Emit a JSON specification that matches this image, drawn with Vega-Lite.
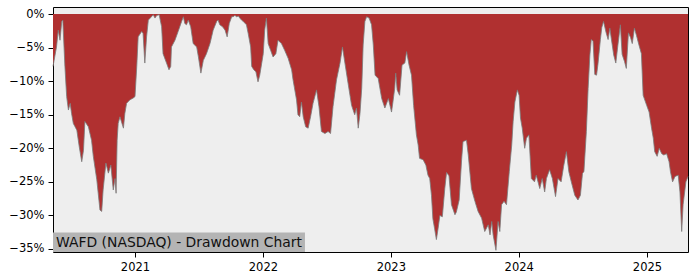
{
  "$schema": "https://vega.github.io/schema/vega-lite/v6.json",
  "width": 635,
  "height": 245,
  "autosize": {"type": "none"},
  "padding": {"left": 53, "top": 7, "right": 12, "bottom": 28},
  "data": {"values": [
    {"date": "2020-05-12", "dd": -7.8},
    {"date": "2020-05-22", "dd": -4.9},
    {"date": "2020-05-27", "dd": -2.4},
    {"date": "2020-06-01", "dd": -3.9},
    {"date": "2020-06-06", "dd": -1.1},
    {"date": "2020-06-09", "dd": -0.9},
    {"date": "2020-06-15", "dd": -7.8},
    {"date": "2020-06-20", "dd": -12.3},
    {"date": "2020-06-25", "dd": -14.3},
    {"date": "2020-06-30", "dd": -13.3},
    {"date": "2020-07-04", "dd": -14.8},
    {"date": "2020-07-09", "dd": -16.3},
    {"date": "2020-07-14", "dd": -16.8},
    {"date": "2020-07-19", "dd": -17.3},
    {"date": "2020-07-26", "dd": -19.8},
    {"date": "2020-08-02", "dd": -22.0},
    {"date": "2020-08-07", "dd": -20.3},
    {"date": "2020-08-11", "dd": -16.0},
    {"date": "2020-08-21", "dd": -16.8},
    {"date": "2020-08-30", "dd": -18.8},
    {"date": "2020-09-04", "dd": -21.2},
    {"date": "2020-09-14", "dd": -24.7},
    {"date": "2020-09-23", "dd": -29.2},
    {"date": "2020-09-28", "dd": -29.4},
    {"date": "2020-10-02", "dd": -26.2},
    {"date": "2020-10-10", "dd": -22.2},
    {"date": "2020-10-17", "dd": -23.7},
    {"date": "2020-10-24", "dd": -22.5},
    {"date": "2020-10-31", "dd": -26.2},
    {"date": "2020-11-05", "dd": -24.5},
    {"date": "2020-11-08", "dd": -26.7},
    {"date": "2020-11-11", "dd": -18.8},
    {"date": "2020-11-14", "dd": -16.3},
    {"date": "2020-11-19", "dd": -15.3},
    {"date": "2020-11-29", "dd": -17.0},
    {"date": "2020-12-03", "dd": -14.8},
    {"date": "2020-12-08", "dd": -13.3},
    {"date": "2020-12-17", "dd": -12.8},
    {"date": "2020-12-27", "dd": -12.5},
    {"date": "2021-01-01", "dd": -12.3},
    {"date": "2021-01-06", "dd": -7.8},
    {"date": "2021-01-10", "dd": -3.4},
    {"date": "2021-01-20", "dd": -2.6},
    {"date": "2021-01-24", "dd": -2.9},
    {"date": "2021-01-29", "dd": -7.3},
    {"date": "2021-02-03", "dd": -3.4},
    {"date": "2021-02-08", "dd": -0.9},
    {"date": "2021-02-17", "dd": -0.4},
    {"date": "2021-02-22", "dd": -0.1},
    {"date": "2021-02-27", "dd": -0.6},
    {"date": "2021-03-04", "dd": -0.2},
    {"date": "2021-03-11", "dd": -0.1},
    {"date": "2021-03-18", "dd": -1.9},
    {"date": "2021-03-22", "dd": -5.9},
    {"date": "2021-04-01", "dd": -7.3},
    {"date": "2021-04-08", "dd": -8.3},
    {"date": "2021-04-13", "dd": -7.8},
    {"date": "2021-04-15", "dd": -4.9},
    {"date": "2021-04-25", "dd": -3.9},
    {"date": "2021-05-04", "dd": -2.6},
    {"date": "2021-05-14", "dd": -1.1},
    {"date": "2021-05-19", "dd": -0.4},
    {"date": "2021-05-23", "dd": -1.4},
    {"date": "2021-05-28", "dd": -1.6},
    {"date": "2021-06-02", "dd": -0.9},
    {"date": "2021-06-09", "dd": -1.9},
    {"date": "2021-06-16", "dd": -4.4},
    {"date": "2021-06-26", "dd": -4.9},
    {"date": "2021-07-01", "dd": -6.4},
    {"date": "2021-07-08", "dd": -8.8},
    {"date": "2021-07-15", "dd": -6.9},
    {"date": "2021-07-24", "dd": -5.9},
    {"date": "2021-08-03", "dd": -4.4},
    {"date": "2021-08-12", "dd": -2.4},
    {"date": "2021-08-22", "dd": -1.1},
    {"date": "2021-08-26", "dd": -0.9},
    {"date": "2021-08-31", "dd": -1.6},
    {"date": "2021-09-08", "dd": -1.9},
    {"date": "2021-09-15", "dd": -2.4},
    {"date": "2021-09-21", "dd": -3.4},
    {"date": "2021-09-27", "dd": -1.4},
    {"date": "2021-10-04", "dd": -0.4},
    {"date": "2021-10-08", "dd": -0.4},
    {"date": "2021-10-13", "dd": -0.2},
    {"date": "2021-10-18", "dd": -0.4},
    {"date": "2021-10-23", "dd": -0.3},
    {"date": "2021-10-27", "dd": -0.6},
    {"date": "2021-11-01", "dd": -0.9},
    {"date": "2021-11-06", "dd": -1.1},
    {"date": "2021-11-15", "dd": -1.6},
    {"date": "2021-11-20", "dd": -2.9},
    {"date": "2021-11-27", "dd": -4.9},
    {"date": "2021-11-30", "dd": -7.8},
    {"date": "2021-12-06", "dd": -8.3},
    {"date": "2021-12-12", "dd": -8.6},
    {"date": "2021-12-18", "dd": -10.1},
    {"date": "2021-12-23", "dd": -9.1},
    {"date": "2022-01-02", "dd": -5.9},
    {"date": "2022-01-06", "dd": -2.4},
    {"date": "2022-01-11", "dd": -0.6},
    {"date": "2022-01-16", "dd": -4.4},
    {"date": "2022-01-23", "dd": -5.4},
    {"date": "2022-01-30", "dd": -6.4},
    {"date": "2022-02-07", "dd": -5.9},
    {"date": "2022-02-13", "dd": -3.9},
    {"date": "2022-02-23", "dd": -4.4},
    {"date": "2022-03-04", "dd": -5.4},
    {"date": "2022-03-14", "dd": -6.6},
    {"date": "2022-03-24", "dd": -8.3},
    {"date": "2022-03-28", "dd": -9.8},
    {"date": "2022-04-07", "dd": -12.8},
    {"date": "2022-04-11", "dd": -15.0},
    {"date": "2022-04-16", "dd": -15.3},
    {"date": "2022-04-21", "dd": -13.1},
    {"date": "2022-04-26", "dd": -15.3},
    {"date": "2022-05-03", "dd": -16.8},
    {"date": "2022-05-10", "dd": -17.0},
    {"date": "2022-05-17", "dd": -15.3},
    {"date": "2022-05-24", "dd": -13.3},
    {"date": "2022-06-03", "dd": -11.3},
    {"date": "2022-06-10", "dd": -13.8},
    {"date": "2022-06-17", "dd": -17.5},
    {"date": "2022-06-27", "dd": -17.8},
    {"date": "2022-07-06", "dd": -17.5},
    {"date": "2022-07-13", "dd": -17.8},
    {"date": "2022-07-20", "dd": -13.8},
    {"date": "2022-07-30", "dd": -9.8},
    {"date": "2022-08-09", "dd": -7.3},
    {"date": "2022-08-16", "dd": -4.9},
    {"date": "2022-08-23", "dd": -7.3},
    {"date": "2022-09-01", "dd": -10.3},
    {"date": "2022-09-11", "dd": -13.6},
    {"date": "2022-09-20", "dd": -15.0},
    {"date": "2022-09-25", "dd": -14.0},
    {"date": "2022-09-30", "dd": -17.0},
    {"date": "2022-10-05", "dd": -14.8},
    {"date": "2022-10-10", "dd": -11.0},
    {"date": "2022-10-14", "dd": -4.6},
    {"date": "2022-10-19", "dd": -1.1},
    {"date": "2022-10-24", "dd": -0.4},
    {"date": "2022-10-31", "dd": -0.6},
    {"date": "2022-11-07", "dd": -1.6},
    {"date": "2022-11-12", "dd": -4.6},
    {"date": "2022-11-17", "dd": -9.1},
    {"date": "2022-11-26", "dd": -9.6},
    {"date": "2022-12-06", "dd": -12.6},
    {"date": "2022-12-15", "dd": -14.0},
    {"date": "2022-12-25", "dd": -12.6},
    {"date": "2023-01-03", "dd": -14.6},
    {"date": "2023-01-07", "dd": -13.1},
    {"date": "2023-01-12", "dd": -11.1},
    {"date": "2023-01-15", "dd": -8.8},
    {"date": "2023-01-19", "dd": -11.3},
    {"date": "2023-01-26", "dd": -12.1},
    {"date": "2023-02-02", "dd": -7.6},
    {"date": "2023-02-10", "dd": -7.3},
    {"date": "2023-02-15", "dd": -5.6},
    {"date": "2023-02-22", "dd": -7.6},
    {"date": "2023-03-01", "dd": -9.1},
    {"date": "2023-03-07", "dd": -13.6},
    {"date": "2023-03-15", "dd": -18.0},
    {"date": "2023-03-20", "dd": -19.5},
    {"date": "2023-03-24", "dd": -21.5},
    {"date": "2023-04-03", "dd": -21.7},
    {"date": "2023-04-11", "dd": -22.5},
    {"date": "2023-04-17", "dd": -24.0},
    {"date": "2023-04-22", "dd": -24.5},
    {"date": "2023-04-27", "dd": -27.0},
    {"date": "2023-05-01", "dd": -30.5},
    {"date": "2023-05-06", "dd": -32.0},
    {"date": "2023-05-11", "dd": -33.6},
    {"date": "2023-05-16", "dd": -31.9},
    {"date": "2023-05-21", "dd": -30.0},
    {"date": "2023-05-28", "dd": -30.2},
    {"date": "2023-06-04", "dd": -26.0},
    {"date": "2023-06-09", "dd": -23.6},
    {"date": "2023-06-16", "dd": -24.1},
    {"date": "2023-06-23", "dd": -28.4},
    {"date": "2023-07-03", "dd": -29.9},
    {"date": "2023-07-07", "dd": -29.5},
    {"date": "2023-07-15", "dd": -27.7},
    {"date": "2023-07-22", "dd": -21.7},
    {"date": "2023-07-26", "dd": -19.0},
    {"date": "2023-08-05", "dd": -18.8},
    {"date": "2023-08-10", "dd": -21.0},
    {"date": "2023-08-19", "dd": -26.0},
    {"date": "2023-08-29", "dd": -27.9},
    {"date": "2023-09-07", "dd": -29.4},
    {"date": "2023-09-17", "dd": -30.4},
    {"date": "2023-09-26", "dd": -32.4},
    {"date": "2023-10-06", "dd": -31.4},
    {"date": "2023-10-11", "dd": -32.9},
    {"date": "2023-10-16", "dd": -30.9},
    {"date": "2023-10-20", "dd": -32.9},
    {"date": "2023-10-28", "dd": -35.2},
    {"date": "2023-11-03", "dd": -30.9},
    {"date": "2023-11-08", "dd": -32.4},
    {"date": "2023-11-13", "dd": -28.4},
    {"date": "2023-11-20", "dd": -27.9},
    {"date": "2023-11-27", "dd": -28.4},
    {"date": "2023-12-05", "dd": -23.5},
    {"date": "2023-12-12", "dd": -19.5},
    {"date": "2023-12-16", "dd": -16.0},
    {"date": "2023-12-21", "dd": -13.1},
    {"date": "2023-12-28", "dd": -11.3},
    {"date": "2024-01-02", "dd": -12.1},
    {"date": "2024-01-06", "dd": -15.5},
    {"date": "2024-01-11", "dd": -17.0},
    {"date": "2024-01-18", "dd": -20.0},
    {"date": "2024-01-23", "dd": -18.5},
    {"date": "2024-01-30", "dd": -18.0},
    {"date": "2024-02-06", "dd": -24.5},
    {"date": "2024-02-15", "dd": -25.0},
    {"date": "2024-02-20", "dd": -24.0},
    {"date": "2024-03-01", "dd": -26.0},
    {"date": "2024-03-08", "dd": -24.5},
    {"date": "2024-03-15", "dd": -26.5},
    {"date": "2024-03-20", "dd": -24.5},
    {"date": "2024-03-29", "dd": -23.2},
    {"date": "2024-04-06", "dd": -24.5},
    {"date": "2024-04-15", "dd": -27.2},
    {"date": "2024-04-22", "dd": -24.5},
    {"date": "2024-05-01", "dd": -25.0},
    {"date": "2024-05-08", "dd": -22.7},
    {"date": "2024-05-16", "dd": -20.5},
    {"date": "2024-05-23", "dd": -23.5},
    {"date": "2024-05-30", "dd": -25.0},
    {"date": "2024-06-09", "dd": -27.0},
    {"date": "2024-06-18", "dd": -27.7},
    {"date": "2024-06-25", "dd": -27.0},
    {"date": "2024-07-01", "dd": -23.7},
    {"date": "2024-07-05", "dd": -23.5},
    {"date": "2024-07-12", "dd": -17.5},
    {"date": "2024-07-17", "dd": -11.1},
    {"date": "2024-07-22", "dd": -6.1},
    {"date": "2024-07-26", "dd": -3.8},
    {"date": "2024-07-31", "dd": -4.0},
    {"date": "2024-08-05", "dd": -9.0},
    {"date": "2024-08-10", "dd": -9.1},
    {"date": "2024-08-14", "dd": -7.5},
    {"date": "2024-08-21", "dd": -3.8},
    {"date": "2024-08-25", "dd": -2.0},
    {"date": "2024-08-30", "dd": -1.1},
    {"date": "2024-09-06", "dd": -2.7},
    {"date": "2024-09-12", "dd": -3.8},
    {"date": "2024-09-17", "dd": -2.1},
    {"date": "2024-09-21", "dd": -3.6},
    {"date": "2024-09-28", "dd": -6.1},
    {"date": "2024-10-04", "dd": -7.3},
    {"date": "2024-10-10", "dd": -4.6},
    {"date": "2024-10-17", "dd": -1.6},
    {"date": "2024-10-22", "dd": -6.0},
    {"date": "2024-10-29", "dd": -7.1},
    {"date": "2024-11-03", "dd": -8.1},
    {"date": "2024-11-09", "dd": -2.8},
    {"date": "2024-11-15", "dd": -3.5},
    {"date": "2024-11-20", "dd": -4.4},
    {"date": "2024-11-26", "dd": -2.1},
    {"date": "2024-12-02", "dd": -3.2},
    {"date": "2024-12-09", "dd": -4.6},
    {"date": "2024-12-16", "dd": -5.9},
    {"date": "2024-12-21", "dd": -12.1},
    {"date": "2024-12-31", "dd": -13.6},
    {"date": "2025-01-07", "dd": -14.6},
    {"date": "2025-01-14", "dd": -17.0},
    {"date": "2025-01-19", "dd": -18.5},
    {"date": "2025-01-23", "dd": -20.5},
    {"date": "2025-01-30", "dd": -21.2},
    {"date": "2025-02-05", "dd": -20.0},
    {"date": "2025-02-12", "dd": -20.8},
    {"date": "2025-02-18", "dd": -21.0},
    {"date": "2025-02-26", "dd": -20.8},
    {"date": "2025-03-05", "dd": -22.0},
    {"date": "2025-03-09", "dd": -23.5},
    {"date": "2025-03-15", "dd": -25.0},
    {"date": "2025-03-22", "dd": -24.2},
    {"date": "2025-03-31", "dd": -24.0},
    {"date": "2025-04-05", "dd": -26.5},
    {"date": "2025-04-10", "dd": -32.4},
    {"date": "2025-04-14", "dd": -28.4},
    {"date": "2025-04-22", "dd": -25.0},
    {"date": "2025-04-28", "dd": -24.2}
  ]},
  "encoding": {
    "x": {
      "field": "date", "type": "temporal",
      "scale": {"nice": false, "padding": 0},
      "axis": {
        "title": null, "format": "%Y", "grid": false, "domain": false, "labelOverlap": false,
        "values": [{"year": 2021, "month": 1, "date": 1}, {"year": 2022, "month": 1, "date": 1}, {"year": 2023, "month": 1, "date": 1}, {"year": 2024, "month": 1, "date": 1}, {"year": 2025, "month": 1, "date": 1}],
        "tickSize": 5, "tickColor": "#000000", "labelPadding": 4
      }
    },
    "y": {
      "field": "dd", "type": "quantitative",
      "scale": {"domain": [-35.45, 1.05], "nice": false, "zero": false},
      "axis": {
        "title": null, "grid": false, "domain": false, "labelOverlap": false,
        "values": [-35, -30, -25, -20, -15, -10, -5, 0],
        "format": "d", "labelExpr": "datum.label + '%'",
        "tickSize": 5, "tickColor": "#000000", "labelPadding": 4
      }
    }
  },
  "layer": [
    {
      "mark": {"type": "area", "color": "#b03030", "interpolate": "linear"},
      "encoding": {"y2": {"datum": 0}}
    },
    {
      "mark": {"type": "line", "color": "#7a7a7a", "strokeWidth": 1, "opacity": 0.8}
    },
    {
      "data": {"values": [{"x0": "2020-05-12", "x1": "2022-05-01", "y0": -35.45, "y1": -32.55}]},
      "mark": {"type": "rect", "color": "#b4b4b4"},
      "encoding": {
        "x": {"field": "x0", "type": "temporal"},
        "x2": {"field": "x1"},
        "y": {"field": "y0", "type": "quantitative"},
        "y2": {"field": "y1"}
      }
    },
    {
      "data": {"values": [{"x0": "2020-05-12", "y0": -34.0, "label": "WAFD (NASDAQ) - Drawdown Chart"}]},
      "mark": {"type": "text", "align": "left", "baseline": "middle", "dx": 3, "dy": 1, "fontSize": 13.9, "font": "DejaVu Sans", "color": "#111111"},
      "encoding": {
        "x": {"field": "x0", "type": "temporal"},
        "y": {"field": "y0", "type": "quantitative"},
        "text": {"field": "label"}
      }
    }
  ],
  "config": {
    "view": {"fill": "#eeeeee", "stroke": "#000000", "strokeWidth": 1},
    "axis": {"labelFont": "DejaVu Sans", "labelFontSize": 11.5, "labelColor": "#000000", "labelOverlap": false}
  }
}
